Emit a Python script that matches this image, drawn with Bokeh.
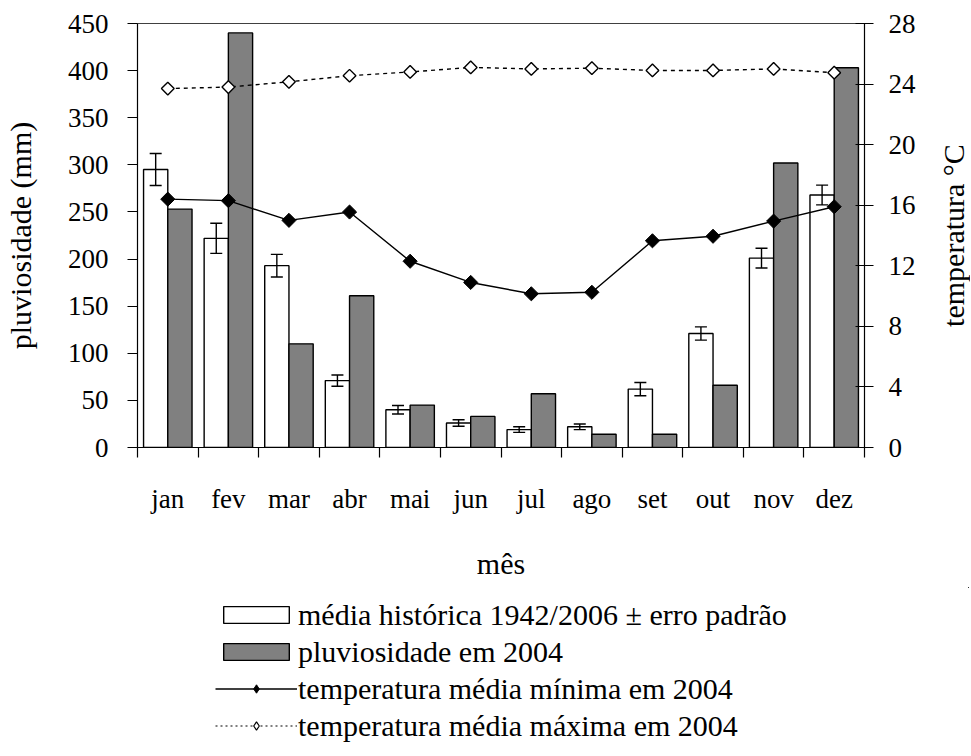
import numpy as np
from bokeh.plotting import figure
from bokeh.layouts import column, row
from bokeh.models import (Range1d, LinearAxis, FixedTicker, ColumnDataSource, Whisker, TeeHead,
                          Legend, LegendItem)
from bokeh.embed import file_html
from bokeh.resources import INLINE

months = ["jan", "fev", "mar", "abr", "mai", "jun", "jul", "ago", "set", "out", "nov", "dez"]
hist = [295, 222, 193, 71, 40, 26, 19, 22, 62, 121, 201, 268]
hist_err = [17, 16, 12, 6, 4.5, 3.5, 3, 3, 7, 7, 10.5, 10.5]
rain2004 = [253, 440, 110, 161, 45, 33, 57, 14, 14, 66, 302, 403]
tmin = [16.4, 16.3, 15.0, 15.55, 12.3, 10.9, 10.15, 10.25, 13.65, 13.95, 14.95, 15.9]
tmax = [23.7, 23.8, 24.15, 24.55, 24.8, 25.1, 25.0, 25.05, 24.9, 24.9, 25.0, 24.75]
left_ticks = [0, 50, 100, 150, 200, 250, 300, 350, 400, 450]
right_ticks = [0, 4, 8, 12, 16, 20, 24, 28]

FONT = "Liberation Serif"
FS = "27px"       # tick labels
FT = "30px"       # axis titles and legend

idx = np.arange(len(months))
centers = idx + 0.5
bounds = np.arange(len(months) + 1)

src = ColumnDataSource(dict(
    xc=centers, xw=centers - 0.2, xg=centers + 0.2,
    hist=hist, rain=rain2004,
    up=np.array(hist) + np.array(hist_err), lo=np.array(hist) - np.array(hist_err),
    tmin=tmin, tmax=tmax))

TOP, FH, BOT = 23, 424, 140

p = figure(frame_width=727, frame_height=FH, output_backend="svg", toolbar_location=None,
           x_range=Range1d(0, 12), y_range=Range1d(0, 450),
           min_border_left=136, min_border_top=TOP, min_border_bottom=BOT, min_border_right=55)
p.extra_y_ranges = {"temp": Range1d(0, 28)}
p.xgrid.visible = False
p.ygrid.visible = False
p.outline_line_color = "#404040"
p.outline_line_width = 1
p.background_fill_color = "white"
p.border_fill_color = "white"


def style_axis(ax):
    ax.axis_line_color = "black"
    ax.axis_line_width = 1.2
    ax.major_tick_line_color = "black"
    ax.major_tick_line_width = 1.2
    ax.major_label_text_font = FONT
    ax.major_label_text_font_size = FS
    ax.major_label_text_color = "black"
    ax.axis_label_text_font = FONT
    ax.axis_label_text_font_size = FT
    ax.axis_label_text_font_style = "normal"
    ax.axis_label_text_color = "black"


# x axis
xa = p.xaxis[0]
style_axis(xa)
xa.ticker = FixedTicker(ticks=list(centers), minor_ticks=list(bounds))
xa.major_label_overrides = {float(c): m for c, m in zip(centers, months)}
xa.major_tick_out = 0
xa.major_tick_in = 0
xa.minor_tick_out = 10
xa.minor_tick_in = 0
xa.minor_tick_line_color = "black"
xa.minor_tick_line_width = 1.2
xa.major_label_standoff = 26
xa.axis_label = "mês"
xa.axis_label_standoff = 30

# left axis
ya = p.yaxis[0]
style_axis(ya)
ya.ticker = FixedTicker(ticks=left_ticks)
ya.major_tick_out = 10
ya.major_tick_in = 0
ya.minor_tick_out = 0
ya.minor_tick_in = 0
ya.major_label_standoff = 19
ya.axis_label = "pluviosidade (mm)"
ya.axis_label_standoff = 28

# right axis (tick labels only; its title sits in the narrow side figure)
ra = LinearAxis(y_range_name="temp", ticker=FixedTicker(ticks=right_ticks))
style_axis(ra)
ra.major_tick_out = 9
ra.major_tick_in = 9
ra.minor_tick_out = 0
ra.minor_tick_in = 0
ra.major_label_standoff = 15
p.add_layout(ra, "right")

# bars
rw = p.vbar(x="xw", top="hist", width=0.4, bottom=0, source=src,
            fill_color="white", line_color="black", line_width=1.4)
rg = p.vbar(x="xg", top="rain", width=0.4, bottom=0, source=src,
            fill_color="#808080", line_color="black", line_width=1.4)

# error bars
wh = Whisker(base="xw", upper="up", lower="lo", source=src, level="overlay",
             line_color="black", line_width=1.4,
             upper_head=TeeHead(size=12, line_color="black", line_width=1.4),
             lower_head=TeeHead(size=12, line_color="black", line_width=1.4))
p.add_layout(wh)

# temperature lines
l1 = p.line(x="xc", y="tmin", source=src, y_range_name="temp", line_color="black", line_width=1.4)
m1 = p.scatter(x="xc", y="tmin", source=src, y_range_name="temp", marker="square", angle=np.pi / 4,
               size=10, fill_color="black", line_color="black")
l2 = p.line(x="xc", y="tmax", source=src, y_range_name="temp", line_color="black", line_width=1.4,
            line_dash="4 4")
m2 = p.scatter(x="xc", y="tmax", source=src, y_range_name="temp", marker="square", angle=np.pi / 4,
               size=9, fill_color="white", line_color="black", line_width=1.4)

# narrow side figure carrying the right-hand axis title (reads bottom to top)
side = figure(frame_width=1, frame_height=FH, output_backend="svg", toolbar_location=None,
              x_range=Range1d(0, 1), y_range=Range1d(0, 28), x_axis_location=None,
              min_border_left=50, min_border_right=0, min_border_top=TOP, min_border_bottom=BOT)
side.xgrid.visible = False
side.ygrid.visible = False
side.outline_line_color = None
sa = side.yaxis[0]
style_axis(sa)
sa.ticker = FixedTicker(ticks=[])
sa.axis_line_color = None
sa.major_tick_line_color = None
sa.minor_tick_line_color = None
sa.major_tick_out = 0
sa.major_tick_in = 0
sa.minor_tick_out = 0
sa.minor_tick_in = 0
sa.major_label_standoff = 0
sa.axis_label = "temperatura °C"
sa.axis_label_standoff = 0

# legend figure below (same data, drawn outside its visible ranges; only the legend shows)
leg = figure(width=969, height=160, output_backend="svg", toolbar_location=None,
             x_range=Range1d(-2, -1), y_range=Range1d(-2, -1),
             x_axis_location=None, y_axis_location=None,
             min_border_left=0, min_border_right=0, min_border_top=0, min_border_bottom=0)
leg.extra_y_ranges = {"temp": Range1d(-2, -1)}
leg.xgrid.visible = False
leg.ygrid.visible = False
leg.outline_line_color = None
lw = leg.vbar(x="xw", top="hist", width=0.4, bottom=0, source=src,
              fill_color="white", line_color="black", line_width=1.4)
lg = leg.vbar(x="xg", top="rain", width=0.4, bottom=0, source=src,
              fill_color="#808080", line_color="black", line_width=1.4)
ll1 = leg.line(x="xc", y="tmin", source=src, y_range_name="temp", line_color="black", line_width=1.4)
lm1 = leg.scatter(x="xc", y="tmin", source=src, y_range_name="temp", marker="diamond",
                  size=9, fill_color="black", line_color="black")
ll2 = leg.line(x="xc", y="tmax", source=src, y_range_name="temp", line_color="black", line_width=1.2,
               line_dash="2 3")
lm2 = leg.scatter(x="xc", y="tmax", source=src, y_range_name="temp", marker="diamond",
                  size=8, fill_color="white", line_color="black", line_width=1.2)

legend = Legend(items=[
    LegendItem(label="média histórica 1942/2006 ± erro padrão", renderers=[lw]),
    LegendItem(label="pluviosidade em 2004", renderers=[lg]),
    LegendItem(label="temperatura média mínima em 2004", renderers=[ll1, lm1]),
    LegendItem(label="temperatura média máxima em 2004", renderers=[ll2, lm2]),
], location=(215, 3))
legend.label_text_font = FONT
legend.label_text_font_size = FT
legend.label_text_color = "black"
legend.glyph_width = 82
legend.glyph_height = 21
legend.label_height = 37
legend.spacing = 0
legend.padding = 0
legend.margin = 0
legend.label_standoff = 1
legend.border_line_color = None
legend.background_fill_alpha = 0
leg.add_layout(legend, "center")

layout = column(row(p, side, spacing=0), leg, spacing=0)
open("out.html", "w").write(file_html(layout, INLINE))
